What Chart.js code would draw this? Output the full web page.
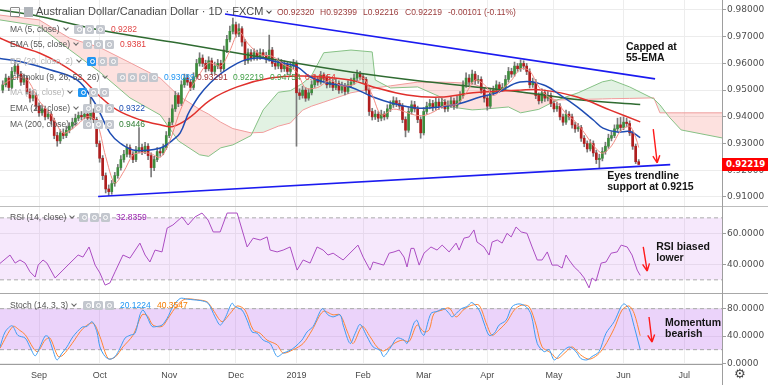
<!DOCTYPE html>
<html><head><meta charset="utf-8">
<script src="https://cdn.jsdelivr.net/npm/chart.js@4.4.1/dist/chart.umd.min.js"></script>
<style>
html,body{margin:0;padding:0;background:#fff;}
#wrap{position:relative;width:768px;height:385px;overflow:hidden;font-family:"Liberation Sans",Arial,sans-serif;}
canvas{position:absolute;left:0;}
.sep{position:absolute;left:0;width:768px;height:1px;background:#b2b2b2;}
.vline{position:absolute;left:722px;top:0;width:1px;height:385px;background:#9e9e9e;}
.row{position:absolute;left:10px;height:10px;font-size:8.5px;line-height:10px;color:#555;white-space:nowrap;}
.row.faded .lb{color:#b4b4b4;}
.ic{position:absolute;top:0.5px;width:9px;height:9px;border-radius:1.5px;background:#c3c7ce;}
.ic.b{background:#2196f3;}
.ic::after{content:"";position:absolute;left:2.5px;top:2.5px;width:3px;height:3px;border:0.8px solid #fff;border-radius:50%;}
.val{position:absolute;top:0;}
.chev{display:inline-block;width:3px;height:3px;border-right:1px solid #666;border-bottom:1px solid #666;transform:rotate(45deg);margin-left:4px;position:relative;top:-2px;}
.hdr{position:absolute;left:36px;top:5px;font-size:11px;line-height:13px;color:#4a4a4a;white-space:nowrap;}
.ohlc{position:absolute;top:7px;font-size:8.5px;line-height:10px;color:#9b3b3b;white-space:nowrap;}
.ann{position:absolute;font-weight:bold;font-size:10.5px;line-height:11px;color:#141414;white-space:nowrap;}
.plabel{position:absolute;left:722px;width:46px;height:13px;background:#ff0000;color:#fff;font-family:"DejaVu Sans";font-weight:bold;font-size:8.6px;line-height:13px;text-indent:4px;}
.gear{position:absolute;left:734px;top:366px;font-family:"DejaVu Sans";font-size:13px;color:#444;}
</style></head>
<body><div id="wrap">
<canvas id="cMain" width="768" height="206" style="top:0"></canvas>
<canvas id="cRsi" width="768" height="86" style="top:207px"></canvas>
<canvas id="cSto" width="768" height="91" style="top:294px"></canvas>
<div class="sep" style="top:206px;background:#bdbdbd"></div>
<div class="sep" style="top:293px;background:#a8a8a8"></div>
<div class="sep" style="top:364px;width:722px;background:#9e9e9e"></div>
<div class="vline"></div>
<div class="gear">⚙</div>
</div>
<script>
// ---------------- DATA ----------------
const firstOpen = 0.9500;
const closes = [
.9520,.9545,.9510,.9570,.9590,.9560,.9530,.9545,.9495,.9470,
.9480,.9440,.9415,.9430,.9400,.9410,.9385,.9330,.9310,.9340,
.9330,.9350,.9365,.9380,.9395,.9405,.9400,.9410,.9395,.9415,
.9390,.9300,.9245,.9180,.9130,.9120,.9150,.9180,.9210,.9240,
.9260,.9285,.9260,.9240,.9275,.9285,.9270,.9290,.9255,.9210,
.9240,.9270,.9265,.9285,.9330,.9380,.9430,.9480,.9450,.9520,
.9545,.9530,.9510,.9550,.9600,.9620,.9600,.9580,.9610,.9570,
.9590,.9600,.9580,.9650,.9690,.9720,.9745,.9710,.9730,.9680,
.9610,.9640,.9620,.9640,.9625,.9640,.9630,.9615,.9650,.9600,
.9590,.9605,.9580,.9595,.9570,.9590,.9600,.9490,.9480,.9500,
.9470,.9490,.9520,.9540,.9530,.9555,.9545,.9520,.9530,.9510,
.9525,.9500,.9515,.9495,.9520,.9530,.9545,.9560,.9550,.9540,
.9500,.9420,.9400,.9410,.9395,.9410,.9400,.9430,.9445,.9460,
.9450,.9440,.9390,.9350,.9420,.9445,.9430,.9390,.9340,.9420,
.9440,.9450,.9435,.9455,.9440,.9455,.9430,.9445,.9460,.9440,
.9460,.9480,.9520,.9545,.9530,.9560,.9535,.9540,.9500,.9470,
.9440,.9490,.9500,.9520,.9505,.9510,.9540,.9570,.9560,.9590,
.9580,.9600,.9590,.9570,.9520,.9530,.9480,.9460,.9490,.9470,
.9480,.9450,.9430,.9440,.9400,.9380,.9410,.9400,.9370,.9355,
.9360,.9320,.9300,.9280,.9300,.9265,.9240,.9245,.9270,.9290,
.9320,.9330,.9355,.9370,.9360,.9380,.9375,.9340,.9290,.9232,
.92219];
const highs = [
.9535,.9560,.9552,.9585,.9605,.9598,.9570,.9560,.9552,.9505,
.9498,.9490,.9452,.9445,.9440,.9425,.9420,.9395,.9342,.9352,
.9355,.9365,.9378,.9395,.9410,.9418,.9420,.9425,.9422,.9500,
.9430,.9398,.9310,.9255,.9190,.9145,.9162,.9192,.9222,.9255,
.9275,.9298,.9295,.9270,.9290,.9360,.9298,.9305,.9300,.9265,
.9252,.9285,.9282,.9298,.9345,.9395,.9445,.9495,.9490,.9535,
.9560,.9558,.9540,.9565,.9615,.9640,.9632,.9612,.9625,.9620,
.9605,.9615,.9612,.9665,.9705,.9740,.9770,.9755,.9748,.9738,
.9690,.9655,.9652,.9655,.9650,.9655,.9652,.9642,.9706,.9660,
.9612,.9620,.9615,.9610,.9605,.9605,.9615,.9610,.9505,.9515,
.9510,.9505,.9535,.9555,.9552,.9570,.9565,.9555,.9545,.9540,
.9540,.9535,.9530,.9525,.9535,.9545,.9560,.9575,.9570,.9562,
.9548,.9508,.9432,.9425,.9420,.9425,.9420,.9445,.9460,.9475,
.9472,.9462,.9450,.9400,.9435,.9460,.9458,.9440,.9400,.9435,
.9455,.9465,.9462,.9470,.9468,.9470,.9465,.9460,.9475,.9470,
.9478,.9495,.9535,.9565,.9558,.9575,.9570,.9555,.9550,.9510,
.9480,.9505,.9515,.9535,.9530,.9525,.9555,.9585,.9582,.9605,
.9600,.9613,.9610,.9600,.9580,.9545,.9540,.9490,.9505,.9500,
.9495,.9490,.9460,.9455,.9450,.9410,.9425,.9420,.9410,.9380,
.9375,.9368,.9330,.9310,.9315,.9310,.9275,.9260,.9285,.9305,
.9335,.9345,.9370,.9395,.9398,.9400,.9395,.9385,.9348,.9298,
.92399];
const lows = [
.9490,.9512,.9498,.9505,.9560,.9548,.9518,.9520,.9485,.9455,
.9460,.9425,.9402,.9405,.9388,.9392,.9372,.9318,.9290,.9300,
.9318,.9322,.9340,.9355,.9370,.9385,.9388,.9392,.9380,.9388,
.9378,.9288,.9230,.9165,.9115,.9105,.9110,.9140,.9170,.9200,
.9230,.9250,.9248,.9228,.9232,.9265,.9258,.9262,.9240,.9175,
.9198,.9232,.9252,.9258,.9278,.9322,.9370,.9420,.9438,.9442,
.9510,.9518,.9498,.9502,.9542,.9590,.9588,.9568,.9572,.9558,
.9560,.9580,.9568,.9572,.9640,.9680,.9710,.9698,.9700,.9665,
.9595,.9600,.9608,.9612,.9612,.9615,.9618,.9602,.9608,.9588,
.9578,.9580,.9568,.9570,.9558,.9562,.9580,.9290,.9465,.9470,
.9458,.9462,.9482,.9510,.9518,.9522,.9532,.9508,.9510,.9498,
.9502,.9488,.9490,.9482,.9488,.9510,.9520,.9535,.9538,.9528,
.9488,.9405,.9388,.9390,.9382,.9385,.9388,.9392,.9420,.9435,
.9438,.9428,.9378,.9325,.9342,.9410,.9418,.9378,.9320,.9332,
.9410,.9430,.9422,.9425,.9428,.9432,.9418,.9420,.9435,.9428,
.9432,.9450,.9470,.9510,.9518,.9522,.9522,.9525,.9488,.9455,
.9425,.9432,.9480,.9490,.9492,.9495,.9502,.9530,.9548,.9552,
.9568,.9570,.9578,.9558,.9508,.9510,.9468,.9448,.9452,.9458,
.9460,.9438,.9418,.9420,.9388,.9368,.9372,.9388,.9358,.9342,
.9345,.9308,.9288,.9268,.9272,.9252,.9225,.9208,.9235,.9260,
.9282,.9310,.9322,.9345,.9348,.9352,.9362,.9330,.9278,.9225,
.92216];

// moving averages: [bar index, value]
const ma5Pts = [[0,0.952],[4,0.9547],[8,0.954],[12,0.946],[16,0.9408],[20,0.9339],[24,0.9364],[28,0.9401],[31,0.9382],[34,0.9251],[37,0.9152],[40,0.9196],[43,0.9257],[46,0.9266],[49,0.9262],[52,0.9248],[55,0.9304],[58,0.9405],[61,0.9485],[64,0.9541],[68,0.9602],[72,0.959],[75,0.9648],[78,0.9719],[81,0.9674],[85,0.9633],[89,0.9627],[93,0.9594],[97,0.9569],[100,0.9508],[104,0.951],[108,0.9536],[112,0.9516],[116,0.9521],[119,0.9545],[122,0.9482],[125,0.9407],[129,0.9429],[133,0.9418],[136,0.9407],[139,0.9405],[142,0.9417],[146,0.9443],[150,0.9447],[153,0.9489],[156,0.9538],[159,0.9521],[162,0.948],[165,0.9505],[168,0.9537],[171,0.958],[174,0.9572],[177,0.9512],[180,0.9476],[183,0.9454],[186,0.9412],[189,0.9383],[192,0.9341],[195,0.9293],[198,0.9264],[201,0.9291],[204,0.9347],[207,0.9365],[209,0.9323],[210,0.9285]];
const ema55Pts = [[-1,0.9695],[5.7,0.9663],[12.3,0.9638],[18.9,0.96],[25.5,0.955],[32.1,0.9476],[37.7,0.9426],[45.3,0.9389],[52,0.937],[56.2,0.9364],[62,0.940],[68.5,0.9463],[77.4,0.9512],[88.3,0.9545],[99.2,0.9553],[114.7,0.9538],[122.3,0.9512],[133.5,0.9482],[144.4,0.9474],[155.3,0.949],[170.8,0.95],[178.4,0.95],[189.7,0.9474],[200.6,0.9425],[210.5,0.9381]];
const ema21Pts = [[-1,0.9619],[5.7,0.9607],[15.6,0.9576],[24.5,0.9538],[29.8,0.9463],[32.1,0.9415],[35.4,0.934],[38.7,0.9302],[43,0.9276],[48.6,0.9276],[52.9,0.9287],[56.2,0.9314],[58.6,0.934],[61.9,0.9426],[68.5,0.9527],[77.4,0.960],[84,0.962],[90.6,0.9605],[97.2,0.9587],[101.5,0.955],[107,0.9527],[114.7,0.9512],[122.3,0.9474],[128.9,0.945],[136.8,0.9433],[144.4,0.9437],[151,0.945],[157.6,0.9474],[163.2,0.949],[170.8,0.953],[178.4,0.952],[184,0.9482],[189.7,0.9437],[195,0.9388],[198.2,0.9358],[202.9,0.9343],[207.2,0.9345],[210.5,0.9322]];
const ma200Pts = [[-1,0.9800],[10,0.9781],[32,0.9725],[58,0.9676],[85,0.9624],[115,0.9568],[141,0.9530],[171,0.9493],[191,0.9463],[210.5,0.9446]];

// Ichimoku cloud (leading spans, shifted 26 bars ahead)
const cloudIdx = [-1,12,22,32,42,52,58,65,68,72,76,82,86,91,95,99,102,106,115,122,123,128,137,144,148,155,158,167,171,177,183,190,198,201,207,215,217,220,224,238];
const spanA = [0.9763,0.9740,0.9652,0.9568,0.9471,0.9407,0.9310,0.9258,0.9252,0.9284,0.9295,0.9330,0.9426,0.9492,0.9498,0.9525,0.9555,0.9640,0.9650,0.9643,0.9538,0.9508,0.9512,0.9477,0.9437,0.9426,0.9428,0.9437,0.9415,0.9428,0.9463,0.9490,0.9531,0.9538,0.9512,0.9467,0.9445,0.9400,0.9351,0.9320];
const spanB = [0.9781,0.9763,0.9695,0.9660,0.9603,0.9545,0.9480,0.9428,0.9410,0.9380,0.9356,0.9340,0.9342,0.9365,0.9377,0.9425,0.9440,0.9455,0.9490,0.9505,0.9508,0.9516,0.9530,0.9530,0.9529,0.9525,0.9512,0.9498,0.9493,0.9480,0.9463,0.9465,0.9467,0.9468,0.9469,0.9471,0.9415,0.9415,0.9415,0.9415];

// trendlines [index, price]
const upperTrend = [[73.4,0.9785],[215.4,0.9542]];
const lowerTrend = [[31.5,0.9102],[220.4,0.9221]];

// RSI (14) [index, value]
const rsiPts = [[-0.9,40.6],[2.4,46],[4.1,40.8],[5.7,42.8],[7.4,40.8],[9,35.2],[10.7,31.8],[11.7,39.5],[13.3,42.8],[14.6,40.8],[17.3,31.2],[19.9,36.3],[22.2,40.8],[24.9,46],[26.5,44.7],[28.5,51.2],[30.5,39.5],[32.1,34.4],[33.8,26.6],[35.4,28],[37.1,35.2],[39.7,46],[42,44],[45.3,53.7],[47,46],[48.6,41.5],[50.3,49.2],[52.6,48],[54.3,63.4],[56.2,65.4],[59.2,70.6],[61.2,65.4],[63.5,70.6],[65.8,73.1],[67.8,68.6],[69.5,60.9],[71.8,60.9],[74.1,73.1],[77.4,73.1],[80.7,51.2],[82.7,56.9],[85,55.7],[87.3,57.7],[88.3,49.2],[90.6,48],[92.6,49.2],[94.9,51.2],[97.2,36.3],[99.2,42.8],[101.5,40.8],[103.8,51.2],[105.8,49.2],[107.4,46],[109.1,47.2],[112.4,42.8],[117.3,52.4],[119,44.7],[121.3,36.3],[122.3,41.5],[125.8,39.5],[127.6,47.2],[129.2,48],[130.9,49.2],[132.5,44.7],[133.5,38.3],[134.8,50.3],[135.8,50.3],[137.5,39.5],[139.1,47.2],[141.4,51.2],[143.4,49.2],[145.1,52.4],[147.4,48],[149.7,53.7],[150.7,49.2],[152.3,56.9],[154,57.7],[155.6,62.2],[156.6,54.4],[158.9,51.2],[160.6,46],[161.6,54.4],[163.3,55.7],[164.9,53.7],[166.5,60],[167.9,57.7],[169.5,64.1],[171.2,60.9],[173.1,60],[174.8,51.2],[176.5,42.8],[178.1,42.8],[179.8,48],[181.4,39.5],[183.1,39.5],[184.7,37.6],[186,46],[187,42.8],[188.7,38.3],[190.4,35.2],[192,31.2],[193.6,24.8],[194.6,31.2],[195.9,29.2],[197.6,40.8],[199.2,41.5],[200.9,47.2],[202.9,48],[204.2,52.4],[206.2,51.2],[207.8,46],[209.5,36.3],[210.5,32.84]];

// Stochastic (14,3,3) [index, value]
const stochK = [[-0.9,24],[0.8,46],[3.1,55],[5,41],[7.4,37],[9,24],[10.7,11],[12.3,24],[14,40],[15,39],[16.6,19],[17.9,5],[19.6,15],[21.2,24],[23.2,39],[26.2,53],[27.8,54],[29.5,61],[31.1,46],[32.1,24],[33.8,10],[35.4,6],[37.1,10],[38.7,22],[40.4,37],[42,41],[43.7,44],[45.3,71],[46.3,78],[47.7,68],[49.3,54],[51,54],[52.6,56],[54.3,66],[56.2,83],[58.6,95],[60.9,94],[62.9,93],[65.2,92],[67.8,88],[70.1,68],[71.8,56],[73.4,66],[75.7,88],[76.7,83],[79,78],[80.7,63],[82.3,46],[84,44],[86,34],[88.3,29],[90.6,10],[92.6,15],[94.9,19],[96.5,24],[98.8,34],[100.5,46],[102.5,54],[105.5,80],[107.4,71],[109.1,68],[111.4,71],[112.4,56],[114.7,29],[116.4,44],[118,57],[120.3,39],[122.3,24],[124.6,19],[125.8,10],[128.2,24],[130.2,37],[132.5,34],[133.5,29],[135.8,59],[136.8,63],[138.1,46],[139.1,41],[141.4,73],[143.4,76],[145.7,80],[147.4,73],[148.4,68],[151.4,80],[153.3,83],[154.9,89],[157.3,78],[158.9,59],[160.6,41],[162.3,44],[163.9,56],[166.2,63],[168.2,83],[170.5,87],[172.8,83],[174.5,71],[176.5,29],[178.8,17],[180.4,20],[182.1,5],[184.4,15],[187,24],[189.3,17],[190.9,7],[192.9,5],[194.6,10],[196.9,17],[199.2,44],[201.9,61],[204.2,83],[205.2,87],[206.8,80],[208.5,54],[210.5,20.12]];
const stochD = [[-0.9,22],[3.4,54],[5.7,48],[7.4,42],[11.3,17],[14,34],[15.6,37],[18.3,10],[19.9,12],[22.9,29],[26.5,51],[29.8,59],[32.1,39],[34.8,7],[37.1,9],[39.7,24],[43,41],[46,71],[47.7,70],[49.6,56],[52.6,54],[54.6,66],[57.6,85],[60.2,94],[64.2,93],[67.5,90],[69.5,78],[72.4,61],[75.1,73],[77.4,84],[80,78],[82.7,49],[85,44],[87.3,34],[90.6,27],[92.6,15],[95.9,20],[99.2,29],[102.2,49],[105.8,76],[109.1,71],[111.4,71],[114,44],[115.7,29],[118.7,54],[121.3,39],[123.6,24],[125.8,18],[129.2,29],[131.9,34],[134.2,32],[136.8,56],[139.1,46],[140.8,49],[142.4,73],[145.1,78],[147.4,81],[149.7,68],[152.3,79],[154.9,85],[157.3,85],[159.9,56],[161.6,41],[163.9,49],[166.5,61],[168.9,78],[171.2,85],[173.8,83],[176.1,56],[178.1,24],[181.1,15],[183.1,7],[186,17],[188,24],[190.9,12],[193.6,6],[196.3,12],[198.6,24],[201.9,51],[204.5,78],[206.8,84],[208.5,73],[210.5,40.35]];

// axes
const monthIdx = [12,32,55,77,97,119,139,160,182,205,225];
const monthLbl = ['Sep','Oct','Nov','Dec','2019','Feb','Mar','Apr','May','Jun','Jul'];
const priceTicks = [0.91,0.92,0.93,0.94,0.95,0.96,0.97,0.98];
const rsiTicks = [40,60];
const stochTicks = [0,40,80];
const rsiBand = [70,30];
const stochBand = [80,20];

// annotations (in data coordinates)
const notesMain = [{lines:['Capped at','55-EMA'], x:205.8, y:0.9684},{lines:['Eyes trendline','support at 0.9215'], x:199.6, y:0.9202}];
const notesRsi = [{lines:['RSI biased','lower'], x:215.8, y:55.0}];
const notesSto = [{lines:['Momentum','bearish'], x:218.7, y:67.8}];
const arrowsMain = [{x1:214.8,y1:0.9354,x2:216.1,y2:0.9228}];
const arrowsRsi = [{x1:211.5,y1:51.2,x2:212.8,y2:35.7}];
const arrowsSto = [{x1:213.4,y1:67.8,x2:214.4,y2:31.2}];

// ---------------- CHARTS ----------------
const X_MIN = -0.9, X_MAX = 237.5, Y_AXIS_W = 46;
const pts = a => a.map(p => ({x:p[0], y:p[1]}));
const opens = closes.map((c,i) => i === 0 ? firstOpen : closes[i-1]);
const bodies = closes.map((c,i) => ({x:i, y:[opens[i], c]}));
const wicks = closes.map((c,i) => ({x:i, y:[lows[i], highs[i]]}));
const bodyColors = closes.map((c,i) => c >= opens[i] ? '#3d8c3d' : '#b01e1e');

function xScale(show){
  return {type:'linear', min:X_MIN, max:X_MAX, offset:false,
    afterBuildTicks: s => { s.ticks = monthIdx.map(v => ({value:v})); },
    afterFit: s => { s.height = show ? 21 : 0; s.paddingLeft = 0; s.paddingRight = 0; },
    ticks:{display:show, autoSkip:false, maxRotation:0, padding:6,
      callback: v => monthLbl[monthIdx.indexOf(v)],
      font:{family:'Liberation Sans', size:9}, color:'#4a4a4a'},
    grid:{color:'#ededed', drawTicks:false, offset:false},
    border:{display:false}};
}
function yScale(min, max, ticks, fmt){
  return {position:'right', min, max,
    afterBuildTicks: s => { s.ticks = ticks.map(v => ({value:v})); },
    afterFit: s => { s.width = Y_AXIS_W; s.paddingTop = 0; s.paddingBottom = 0; },
    ticks:{autoSkip:false, padding:1, callback: v => fmt(v),
      font:{family:'DejaVu Sans', size:9}, color:'#4e4e4e'},
    grid:{color:'#ececec', tickLength:4, tickColor:'#9e9e9e'},
    border:{color:'#9e9e9e'}};
}
const arrowPlugin = {
  id:'arrowAnn',
  afterDatasetsDraw(chart, args, opts){
    const xs = chart.scales.x, ys = chart.scales.y, ctx = chart.ctx;
    ctx.save(); ctx.strokeStyle = '#ff1a1a'; ctx.lineWidth = 1.4;
    (opts.items || []).forEach(a => {
      const x1 = xs.getPixelForValue(a.x1), y1 = ys.getPixelForValue(a.y1);
      const x2 = xs.getPixelForValue(a.x2), y2 = ys.getPixelForValue(a.y2);
      const ang = Math.atan2(y2-y1, x2-x1), L = 8;
      ctx.beginPath(); ctx.moveTo(x1,y1); ctx.lineTo(x2,y2);
      ctx.moveTo(x2,y2); ctx.lineTo(x2-L*Math.cos(ang-0.45), y2-L*Math.sin(ang-0.45));
      ctx.moveTo(x2,y2); ctx.lineTo(x2-L*Math.cos(ang+0.45), y2-L*Math.sin(ang+0.45));
      ctx.stroke();
    });
    ctx.restore();
  }
};
const line = (data, color, width, order, extra) => Object.assign({type:'line', data, borderColor:color, borderWidth:width, pointRadius:0, fill:false, tension:0, order}, extra || {});
const baseOpts = (scales, arrows) => ({responsive:false, animation:false, events:[],
  layout:{padding:0}, scales,
  plugins:{legend:{display:false}, tooltip:{enabled:false}, filler:{drawTime:'beforeDatasetsDraw'}, arrowAnn:{items:arrows}}});

const mainChart = new Chart(document.getElementById('cMain'), {
  type:'line',
  data:{datasets:[
    line(cloudIdx.map((x,i)=>({x, y:spanB[i]})), '#f19c9c', 1, 20),
    line(cloudIdx.map((x,i)=>({x, y:spanA[i]})), '#86c185', 1, 19,
      {fill:{target:0, above:'rgba(76,175,80,0.16)', below:'rgba(244,67,54,0.16)'}}),
    {type:'bar', data:wicks, backgroundColor:'#7a7a7a', barThickness:1, grouped:false, borderWidth:0, order:10},
    {type:'bar', data:bodies, backgroundColor:bodyColors, barThickness:2, grouped:false, borderWidth:0, minBarLength:1, order:9},
    line(pts(ma200Pts), '#2f6b31', 1.5, 5, {tension:0.4}),
    line(pts(ema55Pts), '#e0302c', 1.5, 4, {tension:0.4}),
    line(pts(ema21Pts), '#1f4db3', 1.5, 3, {tension:0.4}),
    line(pts(ma5Pts), '#f28b82', 1, 2, {tension:0.3}),
    line(pts(upperTrend), '#1b1bf0', 1.6, 1),
    line(pts(lowerTrend), '#1b1bf0', 1.6, 1)
  ]},
  options: baseOpts({x:xScale(false), y:yScale(0.90662, 0.98374, priceTicks, v => v.toFixed(5))}, arrowsMain),
  plugins:[arrowPlugin]
});

const rsiChart = new Chart(document.getElementById('cRsi'), {
  type:'line',
  data:{datasets:[
    line([{x:X_MIN,y:rsiBand[0]},{x:X_MAX,y:rsiBand[0]}], '#ababab', 1, 5,
      {borderDash:[4,3], fill:{target:1, above:'rgba(200,120,240,0.17)', below:'rgba(200,120,240,0.17)'}}),
    line([{x:X_MIN,y:rsiBand[1]},{x:X_MAX,y:rsiBand[1]}], '#ababab', 1, 5, {borderDash:[4,3]}),
    line(pts(rsiPts), '#ab4cc2', 1, 1)
  ]},
  options: baseOpts({x:xScale(false), y:yScale(21.5, 77, rsiTicks, v => v.toFixed(4))}, arrowsRsi),
  plugins:[arrowPlugin]
});

const stoChart = new Chart(document.getElementById('cSto'), {
  type:'line',
  data:{datasets:[
    line([{x:X_MIN,y:stochBand[0]},{x:X_MAX,y:stochBand[0]}], '#a8a8a8', 1, 5,
      {borderDash:[4,3], fill:{target:1, above:'rgba(190,110,240,0.3)', below:'rgba(190,110,240,0.3)'}}),
    line([{x:X_MIN,y:stochBand[1]},{x:X_MAX,y:stochBand[1]}], '#a8a8a8', 1, 5, {borderDash:[4,3]}),
    line(pts(stochD), '#ff8433', 1, 2, {tension:0.3}),
    line(pts(stochK), '#3d9cf2', 1, 1, {tension:0.3})
  ]},
  options: baseOpts({x:xScale(true), y:yScale(-1, 101.5, stochTicks, v => v.toFixed(4))}, arrowsSto),
  plugins:[arrowPlugin]
});

// ---------------- OVERLAY TEXT ----------------
const wrap = document.getElementById('wrap');
function el(cls, html, style){ const d = document.createElement('div'); d.className = cls; d.innerHTML = html; Object.assign(d.style, style || {}); wrap.appendChild(d); return d; }
function notes(chart, top0, list){
  list.forEach(a => el('ann', a.lines.join('<br>'), {
    left: chart.scales.x.getPixelForValue(a.x) + 'px',
    top: (top0 + chart.scales.y.getPixelForValue(a.y)) + 'px'}));
}
notes(mainChart, 0, notesMain);
notes(rsiChart, 207, notesRsi);
notes(stoChart, 294, notesSto);

// last price label
const lastClose = closes[closes.length-1];
el('plabel', lastClose.toFixed(5), {top:(mainChart.scales.y.getPixelForValue(lastClose) - 6.5) + 'px'});

// header
el('', '', {position:'absolute', left:'10px', top:'7px', width:'8px', height:'8px', border:'1px solid #8a8a8a', borderRadius:'1px'});
el('', '', {position:'absolute', left:'24px', top:'7px', width:'9px', height:'10px', background:'#b0b4ba'});
el('hdr', 'Australian Dollar/Canadian Dollar · 1D · FXCM<i class="chev" style="border-color:#444"></i>');
[['O0.92320',277],['H0.92399',320],['L0.92216',363],['C0.92219',405],['-0.00101 (-0.11%)',448]].forEach(t => el('ohlc', t[0], {left:t[1]+'px'}));

// indicator legend rows
const legendRows = [
  {y:29, label:'MA (5, close)', icons:'ggg', ix:74, vals:[['0.9282','#e04848',111]]},
  {y:44, label:'EMA (55, close)', icons:'ggg', ix:83, vals:[['0.9381','#e03c3c',120]]},
  {y:61, label:'BB (20, close, 2)', faded:true, icons:'bgg', ix:87, vals:[]},
  {y:77, label:'Ichimoku (9, 26, 52, 26)', icons:'gggg', ix:117, vals:[['0.93089','#2196f3',164],['0.93291','#9b2b2b',197],['0.92219','#43a047',233],['0.94754','#43a047',270],['0.94654','#e53935',305]]},
  {y:92, label:'MA (40, close)', faded:true, icons:'bgg', ix:78, vals:[]},
  {y:108, label:'EMA (21, close)', icons:'ggg', ix:83, vals:[['0.9322','#1e50b4',119]]},
  {y:124, label:'MA (200, close)', icons:'ggg', ix:83, vals:[['0.9446','#2e7d32',119]]},
  {y:217, label:'RSI (14, close)', icons:'ggg', ix:79, vals:[['32.8359','#9c27b0',116]]},
  {y:305, label:'Stoch (14, 3, 3)', icons:'ggg', ix:83, vals:[['20.1224','#2196f3',120],['40.3547','#f57c00',157]]}
];
legendRows.forEach(r => {
  const row = el('row' + (r.faded ? ' faded' : ''), '<span class="lb">' + r.label + '</span><i class="chev"></i>', {top:(r.y - 5) + 'px'});
  r.icons.split('').forEach((c,i) => { const ic = document.createElement('span'); ic.className = 'ic' + (c === 'b' ? ' b' : ''); ic.style.left = (r.ix - 10 + i*10.8) + 'px'; row.appendChild(ic); });
  r.vals.forEach(v => { const s = document.createElement('span'); s.className = 'val'; s.textContent = v[0]; s.style.color = v[1]; s.style.left = (v[2] - 10) + 'px'; row.appendChild(s); });
});
</script>
</body></html>
